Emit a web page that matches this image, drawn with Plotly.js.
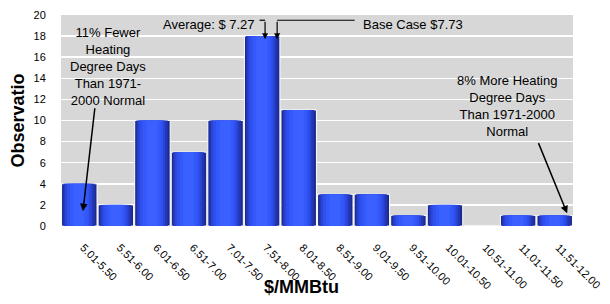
<!DOCTYPE html>
<html><head><meta charset="utf-8">
<script src="https://cdn.plot.ly/plotly-3.0.1.min.js"></script>
<style>html,body{margin:0;padding:0;background:#fff}#chart{width:610px;height:304px}</style>
</head><body><div id="chart"></div>
<script>
var categories = ["5.01-5.50","5.51-6.00","6.01-6.50","6.51-7.00","7.01-7.50","7.51-8.00","8.01-8.50","8.51-9.00","9.01-9.50","9.51-10.00","10.01-10.50","10.51-11.00","11.01-11.50","11.51-12.00"];
var observations = [4,2,10,7,10,18,11,3,3,1,2,0,1,1];
var yTicks = [0,2,4,6,8,10,12,14,16,18,20];

var F = "Arial, 'Liberation Sans', sans-serif";
// layered bars to imitate the horizontal gradient shading
var layers = [
  {w:0.97, o:-0.485, c:"#1b2a8c", lw:1},
  {w:0.86, o:-0.44,  c:"#2236b4", lw:0},
  {w:0.75, o:-0.40,  c:"#2a44d6", lw:0},
  {w:0.63, o:-0.34,  c:"#3050ee", lw:0},
  {w:0.49, o:-0.26,  c:"#3459fb", lw:0},
  {w:0.30, o:-0.16,  c:"#3a60ff", lw:0}
];
var traces = layers.map(function(l){
  return {type:"bar", x:categories, y:observations, width:l.w, offset:l.o,
    marker:{color:l.c, line:{width:l.lw, color:"#ffffff"}}, hoverinfo:"skip", showlegend:false};
});

var ann = [
  {x:0.1, y:1.4, ax:0.43, ay:11.3, axref:"x", ayref:"y", xref:"x", yref:"y", text:"", showarrow:true, arrowhead:2, arrowsize:1, arrowwidth:1.5, arrowcolor:"#000"},
  {x:13.34, y:1.2, ax:12.54, ay:8.0, axref:"x", ayref:"y", xref:"x", yref:"y", text:"", showarrow:true, arrowhead:2, arrowsize:1, arrowwidth:1.5, arrowcolor:"#000"},
  {x:5.08, y:17.7, ax:5.08, ay:19.5, axref:"x", ayref:"y", xref:"x", yref:"y", text:"", showarrow:true, arrowhead:2, arrowsize:1, arrowwidth:1.2, arrowcolor:"#000"},
  {x:5.41, y:17.7, ax:5.41, ay:19.5, axref:"x", ayref:"y", xref:"x", yref:"y", text:"", showarrow:true, arrowhead:2, arrowsize:1, arrowwidth:1.2, arrowcolor:"#000"},
  {x:0.78, y:15.1, xref:"x", yref:"y", text:"11% Fewer<br>Heating<br>Degree Days<br>Than 1971-<br>2000 Normal", showarrow:false, font:{family:F, size:13, color:"#000"}, align:"center"},
  {x:11.7, y:11.4, xref:"x", yref:"y", text:"8% More Heating<br>Degree Days<br>Than 1971-2000<br>Normal", showarrow:false, font:{family:F, size:13, color:"#000"}, align:"center"},
  {x:4.85, y:19.1, xref:"x", yref:"y", xanchor:"right", text:"Average: $ 7.27", showarrow:false, font:{family:F, size:13, color:"#000"}},
  {x:7.7, y:19.1, xref:"x", yref:"y", xanchor:"left", text:"Base Case $7.73", showarrow:false, font:{family:F, size:13, color:"#000"}},
  {x:0.469, y:-0.29, xref:"paper", yref:"paper", xanchor:"center", yanchor:"middle", text:"<b>$/MMBtu</b>", showarrow:false, font:{family:F, size:18, color:"#000"}}
];

var shapes = [
  {type:"line", xref:"x", yref:"y", x0:4.93, x1:5.08, y0:19.5, y1:19.5, line:{color:"#000", width:1.2}},
  {type:"line", xref:"x", yref:"y", x0:5.41, x1:7.53, y0:19.5, y1:19.5, line:{color:"#000", width:1.2}}
];

var layout = {
  width:610, height:304,
  margin:{l:61, r:37, t:15, b:78},
  paper_bgcolor:"#fff", plot_bgcolor:"#d7d7d7",
  barmode:"overlay",
  font:{family:F, size:11, color:"#000"},
  xaxis:{type:"category", tickangle:45, showgrid:false, zeroline:false,
    ticks:"outside", ticklen:10, tickcolor:"rgba(0,0,0,0)", ticklabelshift:4,
    tickfont:{family:F, size:11, color:"#000"}, range:[-0.5,13.5], fixedrange:true, automargin:false},
  yaxis:{range:[0,20], tickvals:yTicks, ticktext:yTicks.map(String), showgrid:true, gridcolor:"#fff", gridwidth:1.5,
    zeroline:false, ticks:"outside", ticklen:12, tickcolor:"rgba(0,0,0,0)",
    tickfont:{family:F, size:11, color:"#000"},
    title:{text:"<b>Observatio</b>", font:{family:F, size:18, color:"#000"}, standoff:4}},
  annotations:ann, shapes:shapes, showlegend:false
};
Plotly.newPlot("chart", traces, layout, {staticPlot:true, displayModeBar:false});
</script></body></html>
